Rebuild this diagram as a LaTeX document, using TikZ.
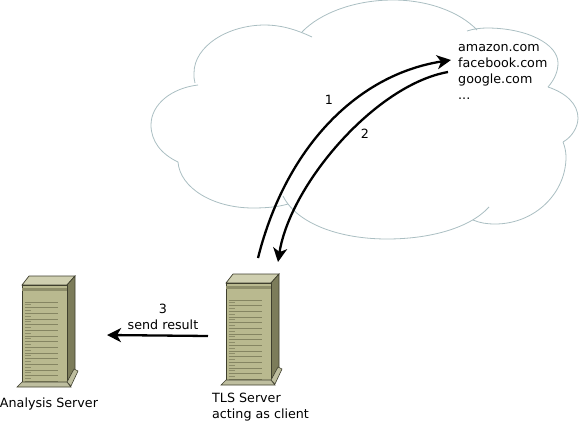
\documentclass[tikz,border=0pt]{standalone}
\usepackage{fontspec}
\setmainfont{DejaVu Sans}
\usetikzlibrary{arrows.meta}
\definecolor{rackfront}{HTML}{B9B98F}
\definecolor{racktop}{HTML}{CFCFB0}
\definecolor{rackside}{HTML}{7C7C5A}
\definecolor{rackline}{HTML}{3F3F2E}
\definecolor{cloudline}{HTML}{AABEC2}
\tikzset{
  lbl/.style={inner sep=0pt,font=\fontsize{12.7}{16}\selectfont},
  flow/.style={line width=2.3pt,-{Stealth[length=14pt,width=14pt,inset=4pt]}},
  cloudarc/.style={draw=cloudline,line width=0.8pt},
  server/.pic={
    \draw[rackline,fill=racktop,line width=0.7pt] (0,0) -- (7,-9) -- (53,-9) -- (45,0) -- cycle;
    \draw[rackline,fill=rackside,line width=0.7pt] (45,0) -- (53,-9) -- (53,85) -- (45,97) -- cycle;
    \draw[rackline,fill=rackfront,line width=0.7pt] (0,0) rectangle (45,97);
    \fill[rackside!70!rackfront] (0.4,3.2) rectangle (44.6,5.7);
    \foreach \i in {0,...,14} {
      \draw[rackside!85!rackfront,line width=0.7pt] (2.5,17+5.67*\i) -- (36,17+5.67*\i);
      \draw[rackside!70!rackfront,line width=0.7pt] (2.5,19.8+5.67*\i) -- (9,19.8+5.67*\i);
    }
    \draw[rackline,fill=racktop!80!rackside,line width=0.6pt] (-5,102) -- (0,97) -- (45,97) -- (49,102) -- cycle;
    \draw[rackline,fill=racktop!80!rackside,line width=0.6pt] (45,97) -- (52,84) -- (56,86) -- (49,101) -- cycle;
  }
}
\begin{document}
\begin{tikzpicture}[x=1pt,y=-1pt]
    \useasboundingbox (0,0) rectangle (579,423);

    % cloud
    \draw[cloudarc] (312,37) .. controls (295,29) and (280,25) .. (265,25) .. controls (228,25) and (194,46) .. (194,73) .. controls (194,77) and (194,80) .. (195,83);
    \draw[cloudarc] (198,85) .. controls (172,88) and (151,104) .. (151,125) .. controls (151,141) and (161,154) .. (178,162);
    \draw[cloudarc] (178,162) .. controls (180,188) and (213,208) .. (253,208) .. controls (266,208) and (278,207) .. (288,204);
    \draw[cloudarc] (283,196) .. controls (297,224) and (340,239) .. (387,239) .. controls (430,239) and (470,228) .. (489,207);
    \draw[cloudarc] (473,220) .. controls (480,223) and (487,224) .. (495,224) .. controls (535,224) and (566,193) .. (566,157) .. controls (566,152) and (565,147) .. (563,142);
    \draw[cloudarc] (563,142) .. controls (572,137) and (578,127) .. (578,118) .. controls (578,104) and (566,93) .. (548,87);
    \draw[cloudarc] (548,87) .. controls (555,79) and (558,71) .. (558,63) .. controls (558,44) and (527,28) .. (487,28) .. controls (480,28) and (473,29) .. (467,31);
    \draw[cloudarc] (302,32) .. controls (320,13) and (355,0) .. (393,0) .. controls (428,0) and (460,12) .. (477,30);

    % servers
    \pic at (22,285) {server};
    \pic at (226,283) {server};

    % texts
    \node[lbl,align=left,anchor=north west] (sites) at (458,44) {amazon.com\\facebook.com\\google.com\\...};
    \node[lbl] (analysis) at (49,404) {Analysis Server};
    \node[lbl,align=left,anchor=north west] (tls) at (212,393) {TLS Server\\acting as client};
    \node[lbl,align=center] (result) at (163,317) {3\\send result};
    \node[lbl] (one) at (329,100) {1};
    \node[lbl] (two) at (365,134) {2};

    % ends of the arrows
    \coordinate (tlsout) at (258,258);
    \coordinate (tlsin) at (278,262);
    \coordinate (tlsleft) at (208,336);
    \coordinate (sitesin) at (451,60);
    \coordinate (sitesout) at (448,72);
    \coordinate (analysisin) at (107,335);

    \draw[flow] (tlsout) .. controls (285,150) and (355,75) .. (sitesin);
    \draw[flow] (sitesout) .. controls (375,85) and (290,185) .. (tlsin);
    \draw[flow] (tlsleft) -- (analysisin);
\end{tikzpicture}
\end{document}
